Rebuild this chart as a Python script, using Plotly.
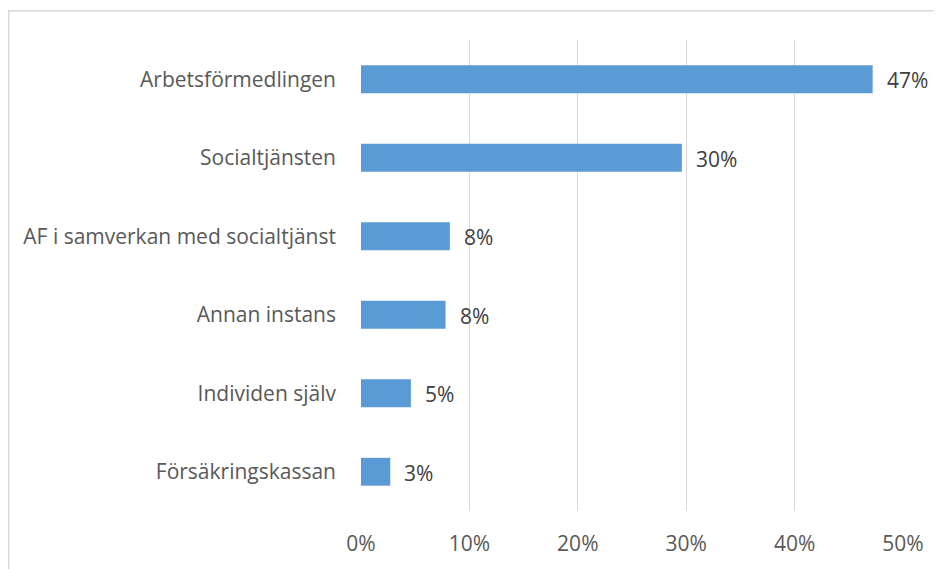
import plotly.graph_objects as go

categories = ["Arbetsförmedlingen", "Socialtjänsten", "AF i samverkan med socialtjänst",
              "Annan instans", "Individen själv", "Försäkringskassan"]
values = [0.472, 0.296, 0.082, 0.078, 0.046, 0.027]
x_ticks = [0, 0.1, 0.2, 0.3, 0.4, 0.5]
x_tick_labels = ["0%", "10%", "20%", "30%", "40%", "50%"]

# page body has an 8px margin, so the figure is drawn 8px right/down
W, H = 933, 561
L, T = 353, 32
R, B = W - 895, H - 507
pw, ph = W - L - R, H - T - B

font_fam = "'Open Sans', Lato, sans-serif"
txt_col = "#595959"

fig = go.Figure(go.Bar(
    x=values, y=categories, orientation="h",
    marker=dict(color="#5B9BD5", line=dict(width=0)),
    width=0.355, hoverinfo="skip",
))

for c, v in zip(categories, values):
    fig.add_annotation(x=v, y=c, text=f"{v:.0%}", showarrow=False,
                       xanchor="left", xshift=12, yshift=-1,
                       font=dict(family=font_fam, size=21, color="#404040"))

fig.add_shape(type="rect", xref="paper", yref="paper",
              x0=(0.75 - L) / pw, x1=(W + 20 - L) / pw,
              y0=-(H + 20 - T - ph) / ph, y1=(T + ph - 2.5) / ph,
              line=dict(color="#D9D9D9", width=1.5), layer="below")

fig.update_layout(
    width=W, height=H,
    margin=dict(l=L, r=R, t=T, b=B, pad=0),
    paper_bgcolor="white", plot_bgcolor="white",
    showlegend=False,
    font=dict(family=font_fam, size=21, color=txt_col),
    xaxis=dict(range=[0, 0.5], tickvals=x_ticks, ticktext=x_tick_labels,
               showgrid=True, gridcolor="#D9D9D9", gridwidth=1,
               zeroline=False, showline=False, ticks="",
               ticklabelstandoff=18, fixedrange=True),
    yaxis=dict(categoryorder="array", categoryarray=categories[::-1],
               showgrid=False, zeroline=False, showline=False, ticks="",
               ticklabelstandoff=24, fixedrange=True),
)

fig.write_html("out.html")
